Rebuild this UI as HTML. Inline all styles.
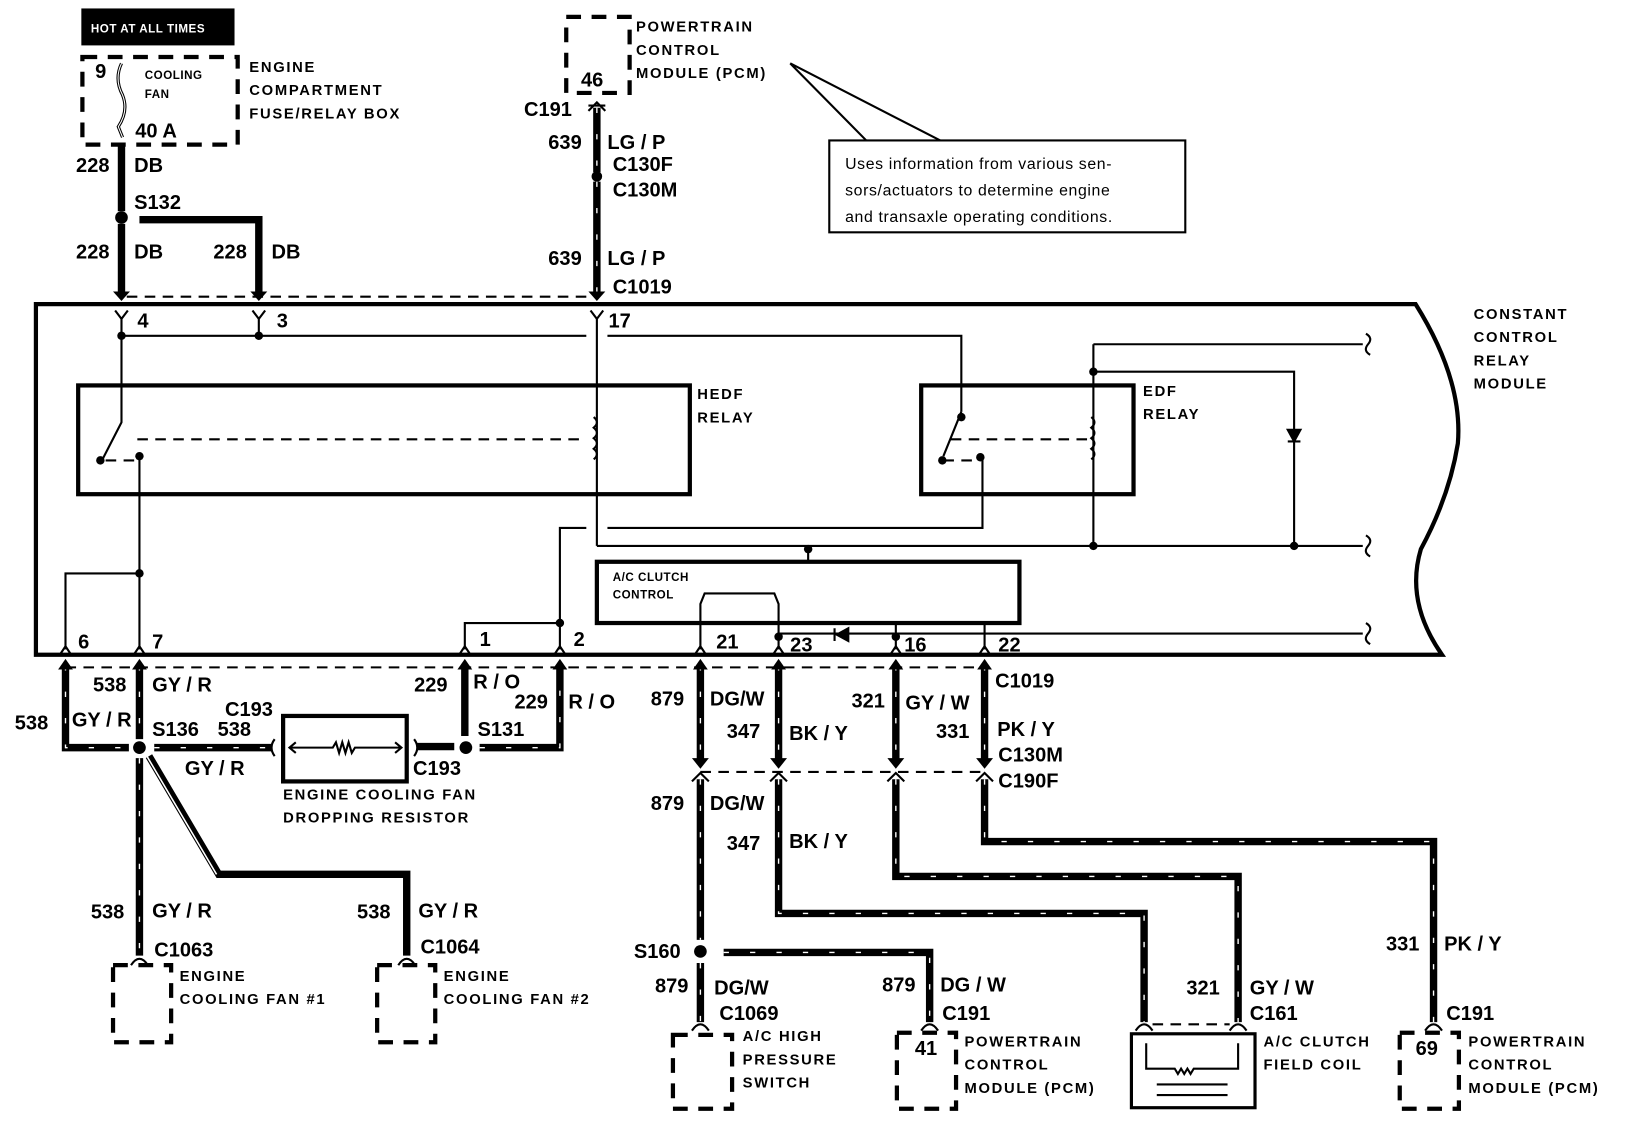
<!DOCTYPE html>
<html><head><meta charset="utf-8"><style>
html,body{margin:0;padding:0;background:#fff}
svg{display:block}
text{font-family:"Liberation Sans",Arial,sans-serif;fill:#000}
.n{font-size:19px;font-weight:bold}
.s{font-size:14px;font-weight:bold;letter-spacing:1.6px}
.xs{font-size:11px;font-weight:bold;letter-spacing:0.5px}
.c{font-size:15px;letter-spacing:0.6px}
.w{fill:none;stroke:#000;stroke-width:7}
.t{fill:none;stroke:#fff;stroke-width:1.3;stroke-dasharray:5 20}
.l{fill:none;stroke:#000;stroke-width:2}
.b{fill:none;stroke:#000;stroke-width:4}
.d{fill:none;stroke:#000;stroke-width:2;stroke-dasharray:10 7}
.db{fill:none;stroke:#000;stroke-width:4;stroke-dasharray:14 10}
</style></head><body>
<svg width="1648" height="1132" viewBox="0 0 1560 1072" preserveAspectRatio="none" xmlns="http://www.w3.org/2000/svg">
<defs>
<path id="p1" d="M115,137 V200"/><path id="p2" d="M115,212 V278"/><path id="p3" d="M132,208 H245 V278"/>
<path id="p4" d="M565,102 V163"/><path id="p5" d="M565,172 V278"/>
<path id="p6" d="M62,630 V708 H122"/><path id="p7" d="M132,630 V700"/><path id="p8" d="M146,708 H258"/>
<path id="p9" d="M395,707 H430"/><path id="p10" d="M440,630 V697"/><path id="p11" d="M454,708 H530 V630"/>
<path id="p12" d="M132,718 V905"/><path id="p13" d="M141,716 L207,828 H385 V905"/>
<path id="p14" d="M663,630 V722"/><path id="p15" d="M663,738 V890"/><path id="p16" d="M685,902 H880 V968"/><path id="p17" d="M663,912 V968"/>
<path id="p18" d="M737,630 V722"/><path id="p19" d="M737,738 V865 H1083 V968"/>
<path id="p20" d="M848,630 V722"/><path id="p21" d="M848,738 V830 H1172 V968"/>
<path id="p22" d="M932,630 V722"/><path id="p23" d="M932,738 V797 H1357 V968"/>
</defs>
<g class="w">
<use href="#p1"/><use href="#p2"/><use href="#p3"/><use href="#p4"/><use href="#p5"/><use href="#p6"/><use href="#p7"/><use href="#p8"/><use href="#p9"/><use href="#p10"/><use href="#p11"/><use href="#p12"/><use href="#p13"/><use href="#p14"/><use href="#p15"/><use href="#p16"/><use href="#p17"/><use href="#p18"/><use href="#p19"/><use href="#p20"/><use href="#p21"/><use href="#p22"/><use href="#p23"/>
</g>
<g class="t">
<use href="#p6"/><use href="#p7"/><use href="#p8"/><use href="#p11"/><use href="#p12"/><use href="#p14"/><use href="#p15"/><use href="#p16"/><use href="#p17"/><use href="#p18"/><use href="#p19"/><use href="#p20"/><use href="#p21"/><use href="#p22"/><use href="#p23"/><use href="#p4"/><use href="#p5"/>
</g>
<path d="M139,716 L205,828" stroke="#fff" stroke-width="1.5"/>
<g fill="#000">
<circle cx="115" cy="206" r="6"/><circle cx="132" cy="708" r="6"/><circle cx="441" cy="708" r="6"/><circle cx="663" cy="901" r="6"/>
<circle cx="565" cy="167" r="5"/>
</g>
<g fill="#000">
<path d="M107,276 L123,276 L115,285 Z"/><path d="M237,276 L253,276 L245,285 Z"/><path d="M557,276 L573,276 L565,285 Z"/>
<path d="M55,634 L69,634 L62,624 Z"/><path d="M125,634 L139,634 L132,624 Z"/><path d="M433,634 L447,634 L440,624 Z"/><path d="M523,634 L537,634 L530,624 Z"/>
<path d="M656,634 L670,634 L663,624 Z"/><path d="M730,634 L744,634 L737,624 Z"/><path d="M841,634 L855,634 L848,624 Z"/><path d="M925,634 L939,634 L932,624 Z"/>
<path d="M655,718 L671,718 L663,728 Z"/><path d="M729,718 L745,718 L737,728 Z"/><path d="M840,718 L856,718 L848,728 Z"/><path d="M924,718 L940,718 L932,728 Z"/>
</g>
<g class="l">
<path d="M655,740 L663,732 L671,740 M729,740 L737,732 L745,740 M840,740 L848,732 L856,740 M924,740 L932,732 L940,740"/>
<path d="M557,105 L565,97 L573,105 M557,100 L573,100"/>
<path d="M124,914 Q132,902 140,914 M377,914 Q385,902 393,914 M655,976 Q663,964 671,976 M872,976 Q880,964 888,976 M1075,976 Q1083,964 1091,976 M1164,976 Q1172,964 1180,976 M1349,976 Q1357,964 1365,976"/>
<path d="M260,700 Q254,708 260,716 M392,700 Q398,708 392,716"/>
</g>
<path class="d" d="M120,281 H560"/>
<path class="d" d="M62,632 H932"/>
<path class="d" d="M663,731 H932"/>
<path class="d" d="M1091,970 H1164"/>
<rect x="77" y="8" width="145" height="35" fill="#000"/>
<text x="86" y="31" style="font-size:11px;font-weight:bold;fill:#fff;letter-spacing:0.5px">HOT AT ALL TIMES</text>
<rect class="db" x="78" y="54" width="147" height="83"/>
<path d="M115,60 Q108,75 116,90 Q122,105 112,120 L116,130" fill="none" stroke="#000" stroke-width="3"/>
<path d="M115,60 Q108,75 116,90 Q122,105 112,120 L116,130" fill="none" stroke="#fff" stroke-width="1"/>
<text class="n" x="90" y="74">9</text><text class="xs" x="137" y="75">COOLING</text><text class="xs" x="137" y="93">FAN</text>
<text class="n" x="128" y="130">40 A</text>
<text class="s" x="236" y="68">ENGINE</text><text class="s" x="236" y="90">COMPARTMENT</text><text class="s" x="236" y="112">FUSE/RELAY BOX</text>
<text class="n" x="72" y="163">228</text><text class="n" x="127" y="163">DB</text><text class="n" x="127" y="198">S132</text>
<text class="n" x="72" y="245">228</text><text class="n" x="127" y="245">DB</text><text class="n" x="202" y="245">228</text><text class="n" x="257" y="245">DB</text>
<rect class="db" x="536" y="16" width="60" height="72"/>
<text class="n" x="550" y="82">46</text>
<text class="s" x="602" y="30">POWERTRAIN</text><text class="s" x="602" y="52">CONTROL</text><text class="s" x="602" y="74">MODULE (PCM)</text>
<text class="n" x="496" y="110">C191</text><text class="n" x="519" y="141">639</text><text class="n" x="575" y="141">LG / P</text>
<text class="n" x="580" y="162">C130F</text><text class="n" x="580" y="186">C130M</text>
<text class="n" x="519" y="251">639</text><text class="n" x="575" y="251">LG / P</text><text class="n" x="580" y="278">C1019</text>
<path class="l" d="M748,60 L820,133 M748,60 L890,133" stroke-width="1.5"/>
<rect x="785" y="133" width="337" height="87" fill="#fff" stroke="#000" stroke-width="2"/>
<text class="c" x="800" y="160">Uses information from various sen-</text>
<text class="c" x="800" y="185">sors/actuators to determine engine</text>
<text class="c" x="800" y="210">and transaxle operating conditions.</text>
<path d="M34,288 H1340 Q1385,360 1380,420 Q1372,470 1345,520 Q1330,570 1365,620 H34 Z" fill="none" stroke="#000" stroke-width="4"/>
<text class="s" x="1395" y="302">CONSTANT</text><text class="s" x="1395" y="324">CONTROL</text><text class="s" x="1395" y="346">RELAY</text><text class="s" x="1395" y="368">MODULE</text>
<g class="l">
<path d="M109,294 L115,302 L121,294 M115,302 V318 M239,294 L245,302 L251,294 M245,302 V318 M559,294 L565,302 L571,294 M565,302 V517"/>
<path d="M115,318 H555 M575,318 H910 V390"/>
<path d="M115,318 V400 L97,435"/>
<path d="M132,432 V615 M132,543 H62 V615"/>
<path d="M910,390 L893,432 M930,432 V500 H575 M555,500 H530 V615"/>
<path d="M565,517 H1290 M1035,326 H1290 M1035,326 V517 M1035,352 H1225 V517 M765,517 V532"/>
<path d="M440,615 V590 H530"/>
<path d="M737,600 H1290"/>
<path d="M663,615 V572 L667,562 H733 L737,572 V615 M848,590 V615 M932,590 V615"/>
<path d="M56,621 L62,612 L68,621 M126,621 L132,612 L138,621 M434,621 L440,612 L446,621 M524,621 L530,612 L536,621 M657,621 L663,612 L669,621 M731,621 L737,612 L743,621 M842,621 L848,612 L854,621 M926,621 L932,612 L938,621"/>
<path d="M1293,316 Q1300,320 1295,326 Q1290,332 1297,336 M1293,507 Q1300,511 1295,517 Q1290,523 1297,527 M1293,590 Q1300,594 1295,600 Q1290,606 1297,610"/>
<path d="M562,395 q6,5 0,10 q6,5 0,10 q6,5 0,10 q6,5 0,10 M1033,395 q6,5 0,10 q6,5 0,10 q6,5 0,10 q6,5 0,10"/>
</g>
<path class="d" d="M130,416 H555 M900,416 H1030 M100,436 H128 M893,436 H925" stroke-width="2.5"/>
<g fill="#000">
<circle cx="115" cy="318" r="4"/><circle cx="245" cy="318" r="4"/><circle cx="132" cy="432" r="4"/><circle cx="95" cy="436" r="4"/>
<circle cx="132" cy="543" r="4"/><circle cx="530" cy="590" r="4"/><circle cx="910" cy="395" r="4"/><circle cx="928" cy="433" r="4"/><circle cx="892" cy="436" r="4"/>
<circle cx="1035" cy="352" r="4"/><circle cx="1035" cy="517" r="4"/><circle cx="1225" cy="517" r="4"/><circle cx="765" cy="520" r="4"/>
<circle cx="737" cy="603" r="4"/><circle cx="848" cy="603" r="4"/>
<path d="M1219,407 H1231 L1225,418 Z M1219,418 H1231" stroke="#000" stroke-width="2"/>
<path d="M803,595 V607 L792,601 Z M790,595 V607" stroke="#000" stroke-width="2"/>
</g>
<text class="n" x="130" y="310">4</text><text class="n" x="262" y="310">3</text><text class="n" x="576" y="310">17</text>
<rect x="74" y="365" width="579" height="103" class="b"/>
<text class="s" x="660" y="378">HEDF</text><text class="s" x="660" y="400">RELAY</text>
<rect x="872" y="365" width="201" height="103" class="b"/>
<text class="s" x="1082" y="375">EDF</text><text class="s" x="1082" y="397">RELAY</text>
<rect x="565" y="532" width="400" height="58" class="b"/>
<text class="xs" x="580" y="550">A/C CLUTCH</text><text class="xs" x="580" y="567">CONTROL</text>
<text class="n" x="74" y="614">6</text><text class="n" x="144" y="614">7</text><text class="n" x="454" y="612">1</text><text class="n" x="543" y="612">2</text>
<text class="n" x="678" y="614">21</text><text class="n" x="748" y="617">23</text><text class="n" x="856" y="617">16</text><text class="n" x="945" y="617">22</text>
<text class="n" x="88" y="655">538</text><text class="n" x="144" y="655">GY / R</text>
<text class="n" x="14" y="691">538</text><text class="n" x="68" y="688">GY / R</text><text class="n" x="144" y="697">S136</text>
<text class="n" x="213" y="678">C193</text><text class="n" x="206" y="697">538</text><text class="n" x="175" y="734">GY / R</text>
<rect x="268" y="678" width="117" height="62" class="b"/>
<path class="l" d="M274,708 H315 l3,-5 l3,10 l3,-10 l3,10 l3,-10 l3,10 l3,-5 H380 M280,703 L274,708 L280,713 M374,703 L380,708 L374,713" stroke-width="1.5"/>
<text class="n" x="391" y="734">C193</text>
<text class="s" x="268" y="757">ENGINE COOLING FAN</text><text class="s" x="268" y="779">DROPPING RESISTOR</text>
<text class="n" x="392" y="655">229</text><text class="n" x="448" y="652">R / O</text><text class="n" x="487" y="671">229</text><text class="n" x="538" y="671">R / O</text><text class="n" x="452" y="697">S131</text>
<text class="n" x="86" y="870">538</text><text class="n" x="144" y="869">GY / R</text><text class="n" x="146" y="906">C1063</text>
<text class="n" x="338" y="870">538</text><text class="n" x="396" y="869">GY / R</text><text class="n" x="398" y="903">C1064</text>
<rect class="db" x="107" y="914" width="55" height="73"/><rect class="db" x="357" y="914" width="55" height="73"/>
<text class="s" x="170" y="929">ENGINE</text><text class="s" x="170" y="951">COOLING FAN #1</text>
<text class="s" x="420" y="929">ENGINE</text><text class="s" x="420" y="951">COOLING FAN #2</text>
<text class="n" x="616" y="668">879</text><text class="n" x="672" y="668">DG/W</text><text class="n" x="688" y="699">347</text><text class="n" x="747" y="701">BK / Y</text>
<text class="n" x="806" y="670">321</text><text class="n" x="857" y="672">GY / W</text><text class="n" x="886" y="699">331</text><text class="n" x="944" y="697">PK / Y</text>
<text class="n" x="942" y="651">C1019</text><text class="n" x="945" y="721">C130M</text><text class="n" x="945" y="746">C190F</text>
<text class="n" x="616" y="767">879</text><text class="n" x="672" y="767">DG/W</text><text class="n" x="688" y="805">347</text><text class="n" x="747" y="803">BK / Y</text>
<text class="n" x="600" y="907">S160</text>
<text class="n" x="620" y="940">879</text><text class="n" x="676" y="942">DG/W</text><text class="n" x="681" y="966">C1069</text>
<text class="n" x="835" y="939">879</text><text class="n" x="890" y="939">DG / W</text><text class="n" x="892" y="966">C191</text>
<text class="n" x="1123" y="942">321</text><text class="n" x="1183" y="942">GY / W</text><text class="n" x="1183" y="966">C161</text>
<text class="n" x="1312" y="900">331</text><text class="n" x="1367" y="900">PK / Y</text><text class="n" x="1369" y="966">C191</text>
<rect class="db" x="637" y="980" width="56" height="70"/>
<text class="s" x="703" y="986">A/C HIGH</text><text class="s" x="703" y="1008">PRESSURE</text><text class="s" x="703" y="1030">SWITCH</text>
<rect class="db" x="849" y="978" width="56" height="72"/><text class="n" x="866" y="999">41</text>
<text class="s" x="913" y="991">POWERTRAIN</text><text class="s" x="913" y="1013">CONTROL</text><text class="s" x="913" y="1035">MODULE (PCM)</text>
<rect x="1071" y="979" width="117" height="70" fill="none" stroke="#000" stroke-width="3"/>
<path class="l" d="M1085,988 V1012 H1112 l3,5 l3,-5 l3,5 l3,-5 l3,5 l3,-5 H1172 V988 M1095,1027 H1162 M1095,1037 H1162" stroke-width="1.5"/>
<text class="s" x="1196" y="991">A/C CLUTCH</text><text class="s" x="1196" y="1013">FIELD COIL</text>
<rect class="db" x="1325" y="978" width="56" height="72"/><text class="n" x="1340" y="999">69</text>
<text class="s" x="1390" y="991">POWERTRAIN</text><text class="s" x="1390" y="1013">CONTROL</text><text class="s" x="1390" y="1035">MODULE (PCM)</text>
</svg>
</body></html>
